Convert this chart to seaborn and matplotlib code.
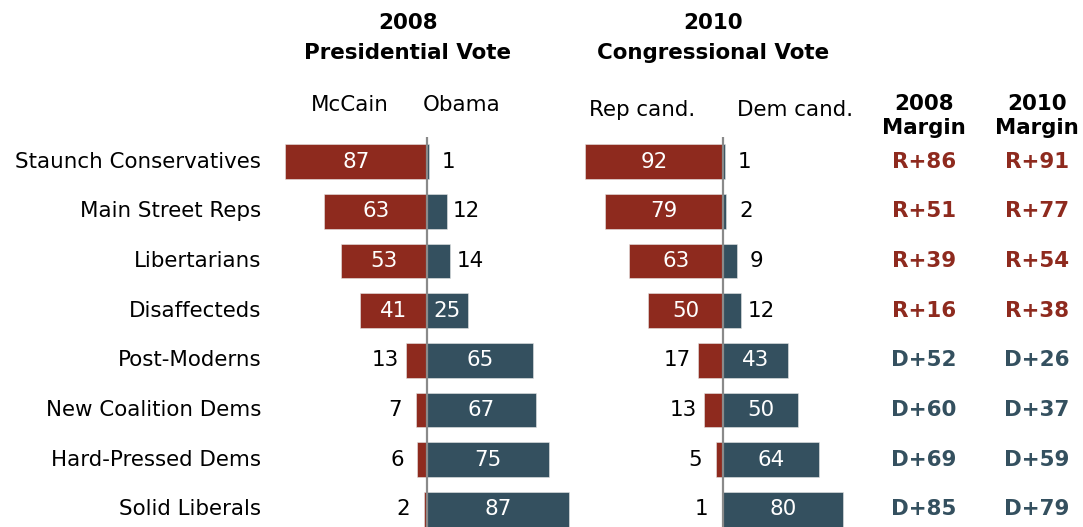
import pandas as pd
import matplotlib.pyplot as plt
import matplotlib.transforms as mtransforms
import seaborn as sns

# 数据
groups = ['Staunch Conservatives', 'Main Street Reps', 'Libertarians', 'Disaffecteds',
          'Post-Moderns', 'New Coalition Dems', 'Hard-Pressed Dems', 'Solid Liberals']
mccain = [87, 63, 53, 41, 13, 7, 6, 2]
obama = [1, 12, 14, 25, 65, 67, 75, 87]
rep_cand = [92, 79, 63, 50, 17, 13, 5, 1]
dem_cand = [1, 2, 9, 12, 43, 50, 64, 80]
margin_2008 = ['R+86', 'R+51', 'R+39', 'R+16', 'D+52', 'D+60', 'D+69', 'D+85']
margin_2010 = ['R+91', 'R+77', 'R+54', 'R+38', 'D+26', 'D+37', 'D+59', 'D+79']

RED = '#8e2a1e'
BLUE = '#34505f'
W, H = 1083, 527

sns.set_theme(style='white')
plt.rcParams['font.family'] = ['DejaVu Sans']
plt.rcParams['text.color'] = 'black'

fig = plt.figure(figsize=(W / 100, H / 100), dpi=100)

# 两个面板：中心线像素位置、每单位像素
def make_ax(center_px, px_per_unit, lim):
    left = (center_px - lim * px_per_unit) / W
    width = 2 * lim * px_per_unit / W
    ax = fig.add_axes([left, 0, width, 390 / H])
    ax.set_xlim(-lim, lim)
    ax.patch.set_alpha(0)
    return ax

ax1 = make_ax(427, 1.63, 95)
ax2 = make_ax(723, 1.50, 95)

FS = 15.4
FSB = 15.4

def draw_panel(ax, left_vals, right_vals):
    df = pd.DataFrame({
        'group': groups * 2,
        'value': [-v for v in left_vals] + right_vals,
        'side': ['L'] * len(groups) + ['R'] * len(groups),
    })
    sns.barplot(data=df, x='value', y='group', hue='side', palette={'L': RED, 'R': BLUE},
                dodge=False, width=0.7, saturation=1, legend=False, ax=ax,
                edgecolor='#e6e6e6', linewidth=0.4)
    ax.set_ylim(7.36, -0.5)
    ax.axvline(0, color='#8a8a8a', lw=1.6, zorder=5)
    ax.set_axis_off()
    # 数值标签：大于等于25放在条内（白字），否则放在条外
    for i, (lv, rv) in enumerate(zip(left_vals, right_vals)):
        if lv >= 25:
            ax.text(-lv / 2, i, str(lv), color='white', ha='center', va='center', fontsize=FS)
        else:
            ax.annotate(str(lv), (-lv, i), xytext=(-14.5, 0), textcoords='offset points',
                        ha='center', va='center', fontsize=FS, color='black')
        if rv >= 25:
            ax.text(rv / 2, i, str(rv), color='white', ha='center', va='center', fontsize=FS)
        else:
            ax.annotate(str(rv), (rv, i), xytext=(14.5, 0), textcoords='offset points',
                        ha='center', va='center', fontsize=FS, color='black')

draw_panel(ax1, mccain, obama)
draw_panel(ax2, rep_cand, dem_cand)

# 行标签和差额列（x 用图像坐标，y 用数据坐标）
tr = mtransforms.blended_transform_factory(fig.transFigure, ax1.transData)
for i, g in enumerate(groups):
    fig.text(261 / W, i, g, transform=tr, ha='right', va='center', fontsize=FS)
    c08 = RED if margin_2008[i].startswith('R') else BLUE
    c10 = RED if margin_2010[i].startswith('R') else BLUE
    fig.text(924 / W, i, margin_2008[i], transform=tr, ha='center', va='center',
             fontsize=FSB, fontweight='bold', color=c08)
    fig.text(1037 / W, i, margin_2010[i], transform=tr, ha='center', va='center',
             fontsize=FSB, fontweight='bold', color=c10)

# 表头
def ftxt(x, y, s, **kw):
    fig.text(x / W, 1 - y / H, s, ha='center', va='center', fontsize=FS, **kw)

ftxt(408, 23, '2008', fontweight='bold')
ftxt(408, 53, 'Presidential Vote', fontweight='bold')
ftxt(713, 23, '2010', fontweight='bold')
ftxt(713, 53, 'Congressional Vote', fontweight='bold')
ftxt(350, 105, 'McCain')
ftxt(462, 105, 'Obama')
ftxt(642, 110, 'Rep cand.')
ftxt(795, 110, 'Dem cand.')
ftxt(924, 104, '2008', fontweight='bold')
ftxt(924, 128, 'Margin', fontweight='bold')
ftxt(1037, 104, '2010', fontweight='bold')
ftxt(1037, 128, 'Margin', fontweight='bold')

fig.savefig('out.png', dpi=100)
